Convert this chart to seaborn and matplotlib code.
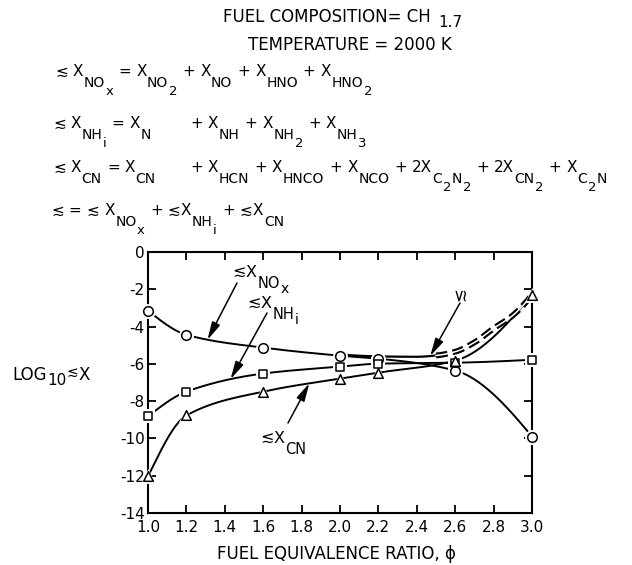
import numpy as np
import pandas as pd
import matplotlib
matplotlib.use("Agg")
import matplotlib.pyplot as plt
import seaborn as sns

# Equilibrium mole fractions (log10) versus fuel equivalence ratio
phi = [1.0, 1.2, 1.6, 2.0, 2.2, 2.6, 3.0]
log_nox = [-3.15, -4.44, -5.13, -5.56, -5.72, -6.36, -9.90]
log_nhi = [-8.82, -7.49, -6.52, -6.15, -5.99, -5.94, -5.78]
log_cn = [-12.03, -8.77, -7.49, -6.79, -6.47, -5.83, -2.30]

# Total of all fixed-nitrogen species
phi_total = [2.0, 2.2, 2.4, 2.5, 2.6, 2.7, 2.8, 2.9, 3.0]
log_total = [-5.50, -5.60, -5.62, -5.55, -5.35, -4.85, -4.10, -3.40, -2.30]
dash_start = 2.5

x_ticks = [1.0, 1.2, 1.4, 1.6, 1.8, 2.0, 2.2, 2.4, 2.6, 2.8, 3.0]
y_ticks = [0, -2, -4, -6, -8, -10, -12, -14]

W, H = 632, 565
S = "\u2272"

sns.set_theme(style="ticks")
plt.rcParams["font.family"] = ["DejaVu Sans"]
plt.rcParams["axes.unicode_minus"] = False


def pchip(x, y, xs):
    """Shape-preserving cubic through the points (Fritsch-Carlson)."""
    x = np.asarray(x, float)
    y = np.asarray(y, float)
    h = np.diff(x)
    d = np.diff(y) / h
    n = len(x)
    m = np.zeros(n)
    for k in range(1, n - 1):
        if d[k - 1] * d[k] > 0:
            w1 = 2 * h[k] + h[k - 1]
            w2 = h[k] + 2 * h[k - 1]
            m[k] = (w1 + w2) / (w1 / d[k - 1] + w2 / d[k])

    def end(h0, h1, d0, d1):
        v = ((2 * h0 + h1) * d0 - h0 * d1) / (h0 + h1)
        if np.sign(v) != np.sign(d0):
            v = 0.0
        elif np.sign(d0) != np.sign(d1) and abs(v) > abs(3 * d0):
            v = 3 * d0
        return v

    m[0] = end(h[0], h[1], d[0], d[1])
    m[-1] = end(h[-1], h[-2], d[-1], d[-2])
    xs = np.asarray(xs, float)
    idx = np.clip(np.searchsorted(x, xs) - 1, 0, n - 2)
    t = (xs - x[idx]) / h[idx]
    h00 = 2 * t**3 - 3 * t**2 + 1
    h10 = t**3 - 2 * t**2 + t
    h01 = -2 * t**3 + 3 * t**2
    h11 = t**3 - t**2
    return (h00 * y[idx] + h10 * h[idx] * m[idx]
            + h01 * y[idx + 1] + h11 * h[idx] * m[idx + 1])


fig = plt.figure(figsize=(W / 100, H / 100), dpi=100)
ax = fig.add_axes([148 / W, 52 / H, 384 / W, 261 / H])

xs = np.linspace(phi[0], phi[-1], 400)
curves = pd.DataFrame({
    "phi": np.tile(xs, 3),
    "logx": np.concatenate([pchip(phi, log_nox, xs),
                            pchip(phi, log_nhi, xs),
                            pchip(phi, log_cn, xs)]),
    "species": np.repeat(["NOx", "NHi", "CN"], len(xs)),
})
sns.lineplot(data=curves, x="phi", y="logx", units="species", estimator=None,
             color="black", lw=1.4, sort=False, ax=ax, legend=False, zorder=2)

# total: solid where it runs level, double dashed where it climbs
xt1 = np.linspace(phi_total[0], dash_start, 80)
xt2 = np.linspace(dash_start, phi_total[-1], 120)
ax.plot(xt1, pchip(phi_total, log_total, xt1), color="black", lw=1.6, zorder=2)
ax.plot(xt2, pchip(phi_total, log_total, xt2), color="black", lw=4.2,
        dashes=(2.0, 0.9), solid_capstyle="butt", dash_capstyle="butt", zorder=2)
ax.plot(xt2, pchip(phi_total, log_total, xt2), color="white", lw=1.1, zorder=2.1)

for vals, mk, sz in [(log_nox, "o", 48), (log_nhi, "s", 40), (log_cn, "^", 48)]:
    sns.scatterplot(x=phi, y=vals, marker=mk, s=sz * 2.4, color="white",
                    edgecolor="white", linewidth=0, zorder=3, clip_on=False, ax=ax)
    sns.scatterplot(x=phi, y=vals, marker=mk, s=sz, color="white",
                    edgecolor="black", linewidth=1.1, zorder=4, clip_on=False, ax=ax)

ax.set_xlim(1.0, 3.0)
ax.set_ylim(-14, 0)
ax.set_xticks(x_ticks)
ax.set_xticklabels([f"{v:.1f}" for v in x_ticks])
ax.set_yticks(y_ticks)
ax.set_yticklabels([str(v) for v in y_ticks])
ax.tick_params(direction="in", length=6, width=1.3, top=True, right=True,
               labelsize=11, colors="black")
ax.tick_params(axis="x", pad=5)
ax.tick_params(axis="y", pad=2.5)
for sp in ax.spines.values():
    sp.set_visible(True)
    sp.set_linewidth(1.5)
    sp.set_color("black")
ax.set_xlabel("")
ax.set_ylabel("")

renderer = fig.canvas.get_renderer()


def put(x, y, s, size, **kw):
    return fig.text(x / W, 1 - y / H, s, fontsize=size, va="baseline",
                    ha="left", color="black", **kw)


def term(x, y, parts, sizes, drops):
    for s, lvl in parts:
        t = put(x, y + drops[lvl], s, sizes[lvl])
        x += t.get_window_extent(renderer).width + 0.5
    return x


EQ_SIZES = {0: 11, 1: 10, 2: 9.5}
EQ_DROPS = {0: 0, 1: 11, 2: 19}


def equation(x, y, terms, gap=4.5):
    for item in terms:
        if isinstance(item[0], (int, float)):
            x, parts = item
        else:
            parts = item
        x = term(x, y, parts, EQ_SIZES, EQ_DROPS) + gap


# header
put(223, 22, "FUEL COMPOSITION= CH", 12)
put(438, 27, "1.7", 11)
put(248, 50, "TEMPERATURE = 2000 K", 12)

equation(55, 76, [
    [(S, 0)], [("X", 0), ("NO", 1), ("x", 2)], [("=", 0)],
    [("X", 0), ("NO", 1), ("2", 2)], [("+", 0)], [("X", 0), ("NO", 1)],
    [("+", 0)], [("X", 0), ("HNO", 1)], [("+", 0)],
    [("X", 0), ("HNO", 1), ("2", 2)],
])
equation(53, 128, [
    [(S, 0)], [("X", 0), ("NH", 1), ("i", 2)], [("=", 0)], [("X", 0), ("N", 1)],
    (190, [("+", 0)]), [("X", 0), ("NH", 1)], [("+", 0)],
    [("X", 0), ("NH", 1), ("2", 2)], [("+", 0)], [("X", 0), ("NH", 1), ("3", 2)],
])
equation(53, 172, [
    [(S, 0)], [("X", 0), ("CN", 1)], [("=", 0)], [("X", 0), ("CN", 1)],
    (190, [("+", 0)]), [("X", 0), ("HCN", 1)], [("+", 0)],
    [("X", 0), ("HNCO", 1)], [("+", 0)], [("X", 0), ("NCO", 1)], [("+", 0)],
    [("2X", 0), ("C", 1), ("2", 2), ("N", 1), ("2", 2)], [("+", 0)],
    [("2X", 0), ("CN", 1), ("2", 2)], [("+", 0)],
    [("X", 0), ("C", 1), ("2", 2), ("N", 1)],
])
equation(51, 215, [
    [(S, 0)], [("=", 0)], [(S, 0)], [("X", 0), ("NO", 1), ("x", 2)],
    [("+", 0)], [(S, 0), ("X", 0), ("NH", 1), ("i", 2)], [("+", 0)],
    [(S, 0), ("X", 0), ("CN", 1)],
])

# y-axis title: LOG10 ≲X, set as a run of pieces
term(12, 380, [("LOG", 0), ("10", 1), (S, 2), ("X", 0)],
     {0: 12, 1: 11, 2: 10}, {0: 0, 1: 5, 2: -4})
fig.text(336 / W, 1 - 559 / H, "FUEL EQUIVALENCE RATIO, \u03d5", fontsize=12,
         ha="center", va="baseline", color="black")

# curve labels with arrows
LAB_SIZES = {0: 11.5, 1: 10.5, 2: 10}
PL_DROPS = {0: 0, 1: 11, 2: 16}
term(232, 277, [(S, 0), ("X", 0), ("NO", 1), ("x", 2)], LAB_SIZES, PL_DROPS)
term(247, 308, [(S, 0), ("X", 0), ("NH", 1), ("i", 2)], LAB_SIZES, PL_DROPS)
term(260, 443, [(S, 0), ("X", 0), ("CN", 1)], LAB_SIZES, PL_DROPS)
fig.text(459 / W, 1 - 294 / H, S, fontsize=12, rotation=90, ha="center",
         va="center", color="black")


def px_to_data(px, py):
    return 1.0 + (px - 148) / 192.0, -(py - 252) / (261 / 14)


arrow_kw = dict(arrowstyle="-|>,head_length=0.9,head_width=0.22", color="black",
                lw=1.1, shrinkA=0, shrinkB=0)
for tail, tip_x, series_x, series_y in [
        ((237, 283), 1.31, phi, log_nox),
        ((267, 313), 1.43, phi, log_nhi),
        ((288, 423), 1.84, phi, log_cn),
        ((460, 303), 2.47, phi_total, log_total)]:
    tip_y = float(pchip(series_x, series_y, [tip_x])[0])
    ax.annotate("", xy=(tip_x, tip_y), xytext=px_to_data(*tail),
                arrowprops=arrow_kw, annotation_clip=False)

fig.savefig("out.png", dpi=100, facecolor="white")
